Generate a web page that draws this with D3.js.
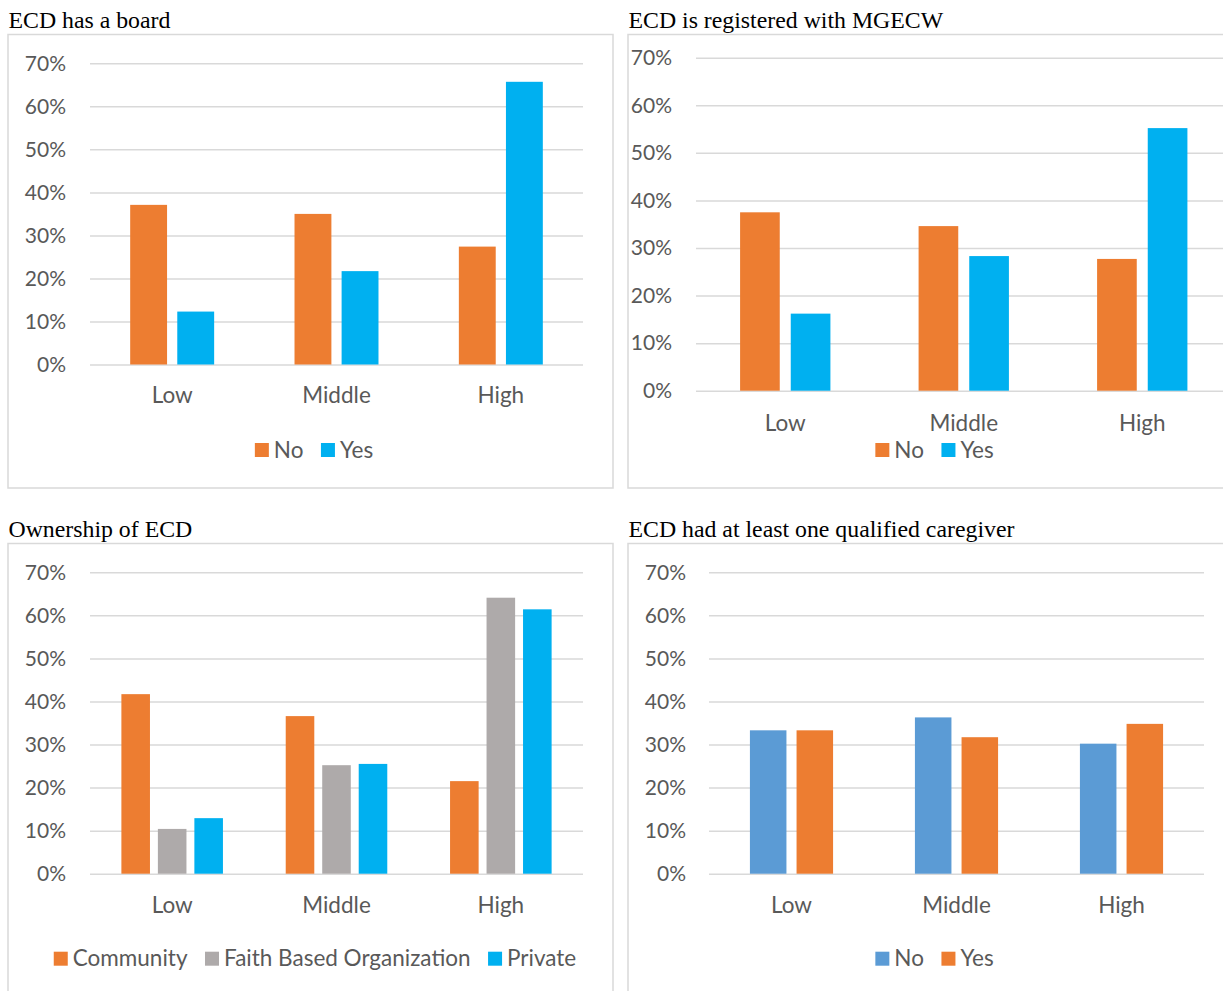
<!DOCTYPE html>
<html>
<head>
<meta charset="utf-8">
<script src="https://cdn.jsdelivr.net/npm/d3@7"></script>
<style>
  html, body { margin: 0; padding: 0; background: #ffffff; }
  svg { display: block; }
</style>
</head>
<body>
<svg id="chart" width="1223" height="991"></svg>
<script>
// ---------------- data ----------------
const categories = ["Low", "Middle", "High"];
const yTicks = [0, 0.1, 0.2, 0.3, 0.4, 0.5, 0.6, 0.7];

const boardTitle = "ECD has a board";
const boardSeries = ["No", "Yes"];
const boardNo  = [0.371, 0.350, 0.274];
const boardYes = [0.123, 0.217, 0.657];

const regTitle = "ECD is registered with MGECW";
const regSeries = ["No", "Yes"];
const regNo  = [0.375, 0.346, 0.277];
const regYes = [0.162, 0.283, 0.552];

const ownTitle = "Ownership of ECD";
const ownSeries = ["Community", "Faith Based Organization", "Private"];
const ownCommunity = [0.417, 0.366, 0.215];
const ownFaith     = [0.104, 0.252, 0.641];
const ownPrivate   = [0.129, 0.255, 0.614];

const qualTitle = "ECD had at least one qualified caregiver";
const qualSeries = ["No", "Yes"];
const qualNo  = [0.333, 0.363, 0.302];
const qualYes = [0.333, 0.317, 0.348];

// ---------------- colours ----------------
const ORANGE = "#ED7D31", CYAN = "#00B0F0", GREY = "#AEAAAA", STEEL = "#5B9BD5";

// ---------------- panels (layout) ----------------
const panels = [
  { title: boardTitle, series: boardSeries, values: [boardNo, boardYes], colors: [ORANGE, CYAN],
    box: [8, 34.5, 605, 453.5], titleX: 8.5, titleY: 28,
    xr: [90, 583], y0: 364.5, y70: 63.3, yLabX: 66, xLabY: 403,
    groupFrac: 0.511, legY: 443, legCX: 314 },
  { title: regTitle, series: regSeries, values: [regNo, regYes], colors: [ORANGE, CYAN],
    box: [628, 34.5, 700, 453.5], titleX: 628.5, titleY: 28,
    xr: [696, 1231.5], y0: 390.7, y70: 57.7, yLabX: 672, xLabY: 430.5,
    groupFrac: 0.506, legY: 443, legCX: 934.5 },
  { title: ownTitle, series: ownSeries, values: [ownCommunity, ownFaith, ownPrivate], colors: [ORANGE, GREY, CYAN],
    box: [8, 543.5, 605, 500], titleX: 8.5, titleY: 537,
    xr: [90, 583], y0: 873.7, y70: 572.3, yLabX: 66, xLabY: 912.5,
    groupFrac: 0.618, legY: 951.7, legCX: 315 },
  { title: qualTitle, series: qualSeries, values: [qualNo, qualYes], colors: [STEEL, ORANGE],
    box: [628, 543.5, 700, 500], titleX: 628.5, titleY: 537,
    xr: [709, 1204], y0: 873.7, y70: 572.3, yLabX: 686, xLabY: 912.5,
    groupFrac: 0.504, legY: 951.7, legCX: 934.5 }
];

const svg = d3.select("#chart");
const TICK_FONT = "Lato, 'Open Sans', sans-serif";
const YTICK_SIZE = "21px";
const LABEL_SIZE = "22.5px";
const TEXT_COL = "#595959";
const GRID_COL = "#D9D9D9";
const fmt = d3.format(".0%");

panels.forEach(p => {
  const g = svg.append("g");

  // frame
  g.append("rect")
    .attr("x", p.box[0]).attr("y", p.box[1])
    .attr("width", p.box[2]).attr("height", p.box[3])
    .attr("fill", "none").attr("stroke", GRID_COL).attr("stroke-width", 1.5);

  // title
  g.append("text")
    .attr("x", p.titleX).attr("y", p.titleY)
    .attr("font-family", "'Liberation Serif', 'Times New Roman', serif")
    .attr("font-size", "23.8px").attr("fill", "#000")
    .text(p.title);

  const y = d3.scaleLinear().domain([0, 0.7]).range([p.y0, p.y70]);
  const x0 = d3.scaleBand().domain(categories).range(p.xr).padding(0);
  const gw = x0.step() * p.groupFrac;
  const x1 = d3.scaleBand().domain(p.series)
    .range([x0.bandwidth() / 2 - gw / 2, x0.bandwidth() / 2 + gw / 2])
    .paddingInner(0.217).paddingOuter(0);

  // gridlines + y axis
  const yAxis = d3.axisLeft(y).tickValues(yTicks).tickFormat(fmt)
    .tickSize(-(p.xr[1] - p.xr[0])).tickPadding(p.xr[0] - p.yLabX);
  const ya = g.append("g").attr("transform", `translate(${p.xr[0]},0)`).call(yAxis);
  ya.select(".domain").remove();
  ya.selectAll(".tick line").attr("stroke", GRID_COL).attr("stroke-width", 1.5);
  ya.selectAll(".tick text")
    .attr("font-family", TICK_FONT).attr("font-size", YTICK_SIZE).attr("fill", TEXT_COL);

  // bars
  p.series.forEach((s, si) => {
    g.append("g").selectAll("rect")
      .data(categories.map((c, ci) => ({ c, v: p.values[si][ci] })))
      .join("rect")
      .attr("x", d => x0(d.c) + x1(s))
      .attr("width", x1.bandwidth())
      .attr("y", d => y(d.v))
      .attr("height", d => y(0) - y(d.v))
      .attr("fill", p.colors[si]);
  });

  // x axis labels
  const xAxis = d3.axisBottom(x0).tickSize(0).tickPadding(0);
  const xa = g.append("g").attr("transform", `translate(0,${p.xLabY})`).call(xAxis);
  xa.select(".domain").remove();
  xa.selectAll(".tick text")
    .attr("dy", 0).attr("y", 0)
    .attr("font-family", TICK_FONT).attr("font-size", LABEL_SIZE).attr("fill", TEXT_COL);

  // legend
  const leg = g.append("g");
  let cx = 0;
  const items = [];
  p.series.forEach((s, si) => {
    const it = leg.append("g");
    it.append("rect").attr("x", 0).attr("y", p.legY).attr("width", 14).attr("height", 14).attr("fill", p.colors[si]);
    const t = it.append("text").attr("x", 19).attr("y", p.legY + 14.5)
      .attr("font-family", TICK_FONT).attr("font-size", LABEL_SIZE).attr("fill", TEXT_COL).text(s);
    const w = 19 + t.node().getComputedTextLength();
    items.push({ it, off: cx });
    cx += w + 17.5;
  });
  const total = cx - 17.5;
  const start = p.legCX - total / 2;
  items.forEach(d => d.it.attr("transform", `translate(${start + d.off},0)`));
});
</script>
</body>
</html>
